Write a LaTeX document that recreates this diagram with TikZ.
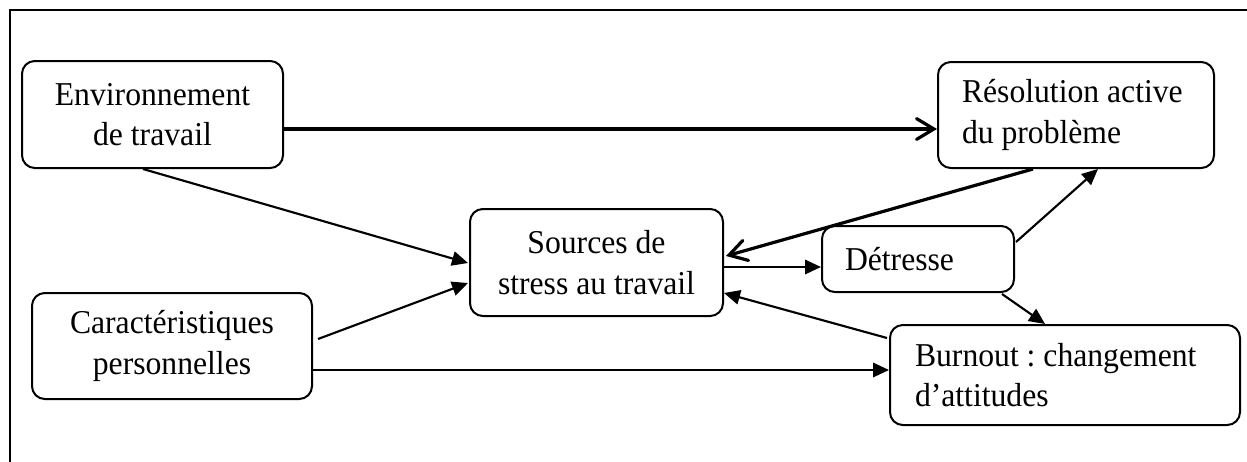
\documentclass[tikz,border=0pt]{standalone}
\usepackage{fontspec}
\setmainfont{Liberation Serif}[FakeStretch=0.95]
\usetikzlibrary{arrows.meta,calc}
\newcommand{\PX}{0.375pt}
\frenchspacing
\begin{document}
\begin{tikzpicture}[x=0.375pt,y=-0.375pt,
  box/.style={draw,line width=0.75pt,rounded corners=4.8pt,inner sep=0pt,
    font=\fontsize{12.5}{15.2}\selectfont\frenchspacing},
  cbox/.style={box,align=center},
  lbox/.style={box,align=flush left},
  thinarrow/.style={line width=0.8pt,-{Triangle[length=6pt,width=5.4pt]}},
  thickarrow/.style={line width=1.2pt,-{Straight Barb[length=6.5pt,width=7.8pt,line cap=round]}},
  frameline/.style={line width=0.8pt}]
\useasboundingbox (0,0) rectangle (1247,461);
\draw[frameline] (10,470) -- (10,10) -- (1260,10);

\node[cbox,minimum width=261*\PX,minimum height=107*\PX] (env) at (152.5,114.5)
  {Environnement\\de travail};
\node[lbox,minimum width=276*\PX,minimum height=106*\PX,text width=228*\PX,inner xsep=24*\PX] (res) at (1076,115)
  {Résolution active\\du problème};
\node[cbox,minimum width=253*\PX,minimum height=107*\PX] (src) at (596.5,262.5)
  {Sources de\\stress au travail};
\node[lbox,minimum width=192*\PX,minimum height=66*\PX,text width=146*\PX,inner xsep=23*\PX] (det) at (918,259)
  {Détresse};
\node[cbox,minimum width=280*\PX,minimum height=106*\PX] (car) at (172,346)
  {Caractéristiques\\personnelles};
\node[lbox,minimum width=350*\PX,minimum height=100*\PX,text width=300*\PX,inner xsep=25*\PX] (bur) at (1065,375)
  {Burnout : changement\\d’attitudes};

\draw[thickarrow] ($(env.east)+(0,14.5)$) -- ($(res.west)+(0,14)$);
\draw[thinarrow] ($(env.south)+(-9.5,0)$) -- ($(src.west)+(-1,0.5)$);
\draw[thinarrow] ($(car.east)+(5,-7)$) -- ($(src.west)+(-1,20.5)$);
\draw[thinarrow] ($(car.east)+(0,24)$) -- ($(bur.west)+(0,-5)$);
\draw[thickarrow] ($(res.south)+(-43,0)$) -- ($(src.east)+(2,-6.5)$);
\draw[thinarrow] ($(src.east)+(0,4.5)$) -- ($(det.west)+(0,8)$);
\draw[thinarrow] ($(det.east)+(1,-17)$) -- ($(res.south)+(22,0)$);
\draw[thinarrow] ($(det.south)+(84,1)$) -- ($(bur.north)+(-20,0)$);
\draw[thinarrow] ($(bur.west)+(-2,-37)$) -- ($(src.east)+(0,30.5)$);
\end{tikzpicture}
\end{document}
